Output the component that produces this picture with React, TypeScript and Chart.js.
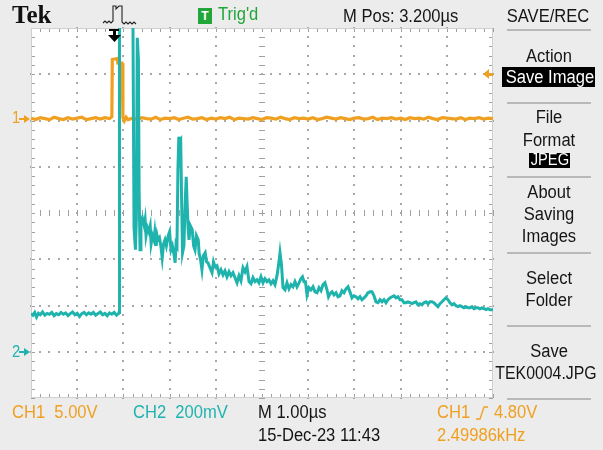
import React, { useEffect, useRef } from "react";
import { Chart, registerables } from "chart.js";

Chart.register(...registerables);

const ORANGE = "#f0a020";
const TEAL = "#1fb3ad";
const INK = "#151515";
const GREEN = "#22a63a";

// Horizontal: M 1.00 µs/div, M Pos 3.200 µs, trigger at t = 0
const timeMin = -1.8;
const timeMax = 8.2;
const ch1VoltsPerDiv = 5;
const ch2MilliVoltsPerDiv = 200;
const ch1OffsetDiv = 2.04;
const ch2OffsetDiv = -3.0;
const triggerLevelVolts = 4.8;
const triggerTime = 0;

// CH1 (V)
const ch1Trace: [number, number][] = [
  [-1.8, 0.05], [-1.7, -0.1], [-1.6, 0.1], [-1.5, 0], [-1.4, -0.1], [-1.3, 0.15], [-1.2, 0], [-1.1, -0.1],
  [-1.0, 0.1], [-0.9, -0.05], [-0.8, 0.05], [-0.7, 0.15], [-0.6, -0.1], [-0.5, 0], [-0.4, 0.1], [-0.3, -0.05],
  [-0.2, 0.1], [-0.1, 0], [-0.05, 0.2], [-0.04, 6.4], [0.06, 6.5], [0.08, 6.0], [0.17, 6.0], [0.19, 0.1],
  [0.22, -0.25], [0.26, 0.15], [0.3, -0.1], [0.4, 0.05], [0.5, -0.1], [0.6, 0.1], [0.7, 0], [0.8, -0.05],
  [0.9, 0.15], [1.0, -0.1], [1.1, 0.05], [1.2, 0], [1.3, 0.1], [1.4, -0.1], [1.5, 0.05], [1.6, 0.15],
  [1.7, -0.05], [1.8, 0], [1.9, 0.1], [2.0, -0.1], [2.1, 0.05], [2.2, -0.05], [2.3, 0.1], [2.4, 0],
  [2.5, 0.15], [2.6, -0.1], [2.7, 0.05], [2.8, 0], [2.9, -0.05], [3.0, 0.1], [3.1, 0], [3.2, -0.1],
  [3.3, 0.1], [3.4, 0.05], [3.5, -0.05], [3.6, 0.15], [3.7, 0], [3.8, -0.1], [3.9, 0.1], [4.0, 0],
  [4.1, 0.05], [4.2, -0.05], [4.3, 0.1], [4.4, -0.1], [4.5, 0], [4.6, 0.15], [4.7, 0.05], [4.8, -0.05],
  [4.9, 0.1], [5.0, 0], [5.1, -0.1], [5.2, 0.05], [5.3, 0.1], [5.4, -0.05], [5.5, 0], [5.6, 0.15],
  [5.7, -0.1], [5.8, 0.05], [5.9, 0], [6.0, 0.1], [6.1, -0.05], [6.2, 0.05], [6.3, -0.1], [6.4, 0.1],
  [6.5, 0], [6.6, 0.05], [6.7, -0.05], [6.8, 0.15], [6.9, 0], [7.0, -0.1], [7.1, 0.1], [7.2, 0.05],
  [7.3, 0], [7.4, -0.05], [7.5, 0.1], [7.6, -0.1], [7.7, 0.05], [7.8, 0], [7.9, 0.1], [8.0, -0.05],
  [8.1, 0.05], [8.2, 0],
];

// CH2 (mV)
const ch2Trace: [number, number][] = [
  [-1.8, 165], [-1.76, 158], [-1.72, 170], [-1.68, 150], [-1.64, 166], [-1.6, 160], [-1.55, 172], [-1.5, 158],
  [-1.45, 166], [-1.4, 162], [-1.35, 170], [-1.3, 156], [-1.25, 165], [-1.2, 160], [-1.15, 170], [-1.1, 162],
  [-1.05, 168], [-1.0, 156], [-0.95, 165], [-0.9, 172], [-0.85, 160], [-0.8, 166], [-0.75, 152], [-0.7, 165],
  [-0.65, 170], [-0.6, 160], [-0.55, 168], [-0.5, 162], [-0.45, 170], [-0.4, 158], [-0.35, 165], [-0.3, 172],
  [-0.25, 160], [-0.2, 166], [-0.15, 156], [-0.1, 168], [-0.05, 162], [0, 170], [0.05, 158], [0.1, 166],
  [0.105, 170], [0.115, 1500], [0.405, 1500], [0.43, 536], [0.46, 441], [0.48, 571], [0.5, 1358], [0.525, 1263],
  [0.54, 700], [0.56, 441], [0.58, 562], [0.61, 579], [0.65, 545], [0.67, 571], [0.69, 502], [0.72, 536],
  [0.75, 519], [0.78, 545], [0.8, 467], [0.83, 502], [0.86, 484], [0.88, 519], [0.91, 458], [0.93, 502],
  [0.95, 484], [0.98, 493], [1.01, 458], [1.04, 406], [1.07, 467], [1.1, 484], [1.13, 458], [1.17, 502],
  [1.2, 519], [1.23, 441], [1.26, 458], [1.3, 415], [1.32, 385], [1.34, 467], [1.36, 458], [1.38, 787],
  [1.4, 930], [1.41, 908], [1.44, 917], [1.46, 657], [1.48, 428], [1.51, 458], [1.54, 657], [1.56, 757],
  [1.58, 640], [1.6, 536], [1.62, 484], [1.65, 545], [1.69, 528], [1.72, 458], [1.75, 441], [1.78, 502],
  [1.82, 484], [1.84, 424], [1.87, 398], [1.9, 355], [1.93, 415], [1.97, 428], [2.0, 389], [2.03, 385],
  [2.074, 363], [2.118, 342], [2.15, 389], [2.183, 368], [2.226, 372], [2.269, 337], [2.312, 355], [2.356, 333],
  [2.399, 350], [2.442, 324], [2.486, 346], [2.529, 329], [2.572, 342], [2.616, 320], [2.659, 298], [2.702, 329],
  [2.745, 307], [2.789, 363], [2.832, 346], [2.875, 368], [2.919, 303], [2.962, 294], [3.005, 320], [3.048, 303],
  [3.092, 311], [3.135, 298], [3.178, 324], [3.222, 298], [3.265, 316], [3.308, 303], [3.351, 311], [3.395, 294],
  [3.438, 307], [3.481, 290], [3.525, 329], [3.568, 389], [3.59, 428], [3.622, 376], [3.655, 277], [3.698, 268],
  [3.741, 298], [3.784, 272], [3.828, 290], [3.871, 281], [3.914, 303], [3.958, 281], [4.001, 298], [4.044, 316],
  [4.077, 324], [4.109, 303], [4.141, 303], [4.174, 246], [4.217, 277], [4.26, 268], [4.304, 281], [4.347, 259],
  [4.39, 255], [4.434, 277], [4.477, 264], [4.52, 290], [4.563, 298], [4.607, 268], [4.639, 238], [4.672, 251],
  [4.715, 259], [4.758, 246], [4.801, 255], [4.845, 238], [4.888, 242], [4.931, 264], [4.975, 255], [5.018, 272],
  [5.061, 281], [5.104, 259], [5.148, 233], [5.191, 242], [5.234, 238], [5.278, 229], [5.321, 238], [5.364, 225],
  [5.408, 233], [5.451, 242], [5.494, 255], [5.537, 259], [5.581, 259], [5.624, 242], [5.667, 216], [5.711, 212],
  [5.754, 225], [5.797, 216], [5.84, 225], [5.884, 212], [5.927, 225], [5.97, 233], [6.014, 238], [6.057, 242],
  [6.1, 233], [6.143, 238], [6.187, 225], [6.23, 225], [6.273, 212], [6.317, 212], [6.36, 216], [6.403, 212],
  [6.446, 208], [6.49, 212], [6.533, 216], [6.576, 203], [6.62, 208], [6.663, 203], [6.706, 212], [6.749, 216],
  [6.793, 208], [6.836, 216], [6.879, 216], [6.922, 212], [6.966, 203], [7.009, 195], [7.052, 208], [7.096, 216],
  [7.139, 225], [7.182, 233], [7.225, 225], [7.269, 212], [7.312, 203], [7.355, 208], [7.399, 199], [7.442, 195],
  [7.485, 199], [7.528, 195], [7.572, 190], [7.615, 195], [7.658, 190], [7.702, 190], [7.745, 195], [7.788, 186],
  [7.831, 190], [7.875, 190], [7.918, 186], [7.961, 190], [8.005, 186], [8.048, 182], [8.091, 186], [8.134, 182],
  [8.2, 182],
];

const scopePlugin = {
  id: "scope",
  beforeDraw(chart: any) {
    const { ctx, width, height, chartArea: a } = chart;
    ctx.save();
    ctx.fillStyle = "#ececec";
    ctx.fillRect(0, 0, width, height);
    ctx.fillStyle = "#ffffff";
    ctx.fillRect(a.left, a.top, a.right - a.left, a.bottom - a.top);
    ctx.restore();
  },
  beforeDatasetsDraw(chart: any) {
    const { ctx, chartArea: a } = chart;
    const xs = chart.scales.x;
    const ys = chart.scales.y;
    const xCenter = (timeMin + timeMax) / 2;
    ctx.save();
    const xMinor: number[] = [];
    for (let i = 0; i <= 50; i++) xMinor.push(Math.round(xs.getPixelForValue(timeMin + i * 0.2)));
    const yMinor: number[] = [];
    for (let i = 0; i <= 40; i++) yMinor.push(Math.round(ys.getPixelForValue(-4 + i * 0.2)));
    ctx.fillStyle = "#a8a8a8";
    for (let i = 1; i < 10; i++) {
      if (i === 5) continue;
      const px = Math.round(xs.getPixelForValue(timeMin + i));
      yMinor.forEach((py) => ctx.fillRect(px - 1, py - 1, 2, 2));
    }
    for (let j = 1; j < 8; j++) {
      if (j === 4) continue;
      const py = Math.round(ys.getPixelForValue(-4 + j));
      xMinor.forEach((px) => ctx.fillRect(px - 1, py - 1, 2, 2));
    }
    ctx.fillStyle = "#a0a0a0";
    const cx = Math.round(xs.getPixelForValue(xCenter));
    const cy = Math.round(ys.getPixelForValue(0));
    yMinor.forEach((py) => ctx.fillRect(cx - 3, py, 6, 1));
    xMinor.forEach((px) => ctx.fillRect(px, cy - 3, 1, 6));
    xMinor.forEach((px) => {
      ctx.fillRect(px, a.top, 1, 4);
      ctx.fillRect(px, a.bottom - 4, 1, 4);
    });
    yMinor.forEach((py) => {
      ctx.fillRect(a.left, py, 4, 1);
      ctx.fillRect(a.right - 4, py, 4, 1);
    });
    ctx.strokeStyle = "#d0d0d0";
    ctx.lineWidth = 1;
    ctx.strokeRect(a.left + 0.5, a.top + 0.5, a.right - a.left - 1, a.bottom - a.top - 1);
    ctx.restore();
  },
  afterDatasetsDraw(chart: any) {
    const { ctx, chartArea: a } = chart;
    const xs = chart.scales.x;
    const ys = chart.scales.y;
    ctx.save();
    // trigger position arrow
    const tx = Math.round(xs.getPixelForValue(triggerTime));
    ctx.fillStyle = "#000";
    ctx.fillRect(tx - 5, a.top + 1, 10, 2);
    ctx.fillRect(tx - 1, a.top + 1, 3, 7);
    ctx.beginPath();
    ctx.moveTo(tx - 6, a.top + 7);
    ctx.lineTo(tx + 7, a.top + 7);
    ctx.lineTo(tx + 0.5, a.top + 14);
    ctx.closePath();
    ctx.fill();
    // trigger level arrow
    const ty = Math.round(ys.getPixelForValue(ch1OffsetDiv + triggerLevelVolts / ch1VoltsPerDiv));
    ctx.fillStyle = ORANGE;
    ctx.beginPath();
    ctx.moveTo(a.right - 10, ty);
    ctx.lineTo(a.right - 4, ty - 5);
    ctx.lineTo(a.right - 4, ty + 5);
    ctx.closePath();
    ctx.fill();
    ctx.fillRect(a.right - 5, ty - 1, 5, 3);
    // channel ground markers
    const mark = (div: number, color: string) => {
      const my = Math.round(ys.getPixelForValue(div));
      ctx.fillStyle = color;
      ctx.fillRect(a.left - 12, my - 1, 6, 2);
      ctx.beginPath();
      ctx.moveTo(a.left - 7, my - 4);
      ctx.lineTo(a.left - 1, my);
      ctx.lineTo(a.left - 7, my + 4);
      ctx.closePath();
      ctx.fill();
      return my;
    };
    mark(ch1OffsetDiv, ORANGE);
    mark(ch2OffsetDiv, TEAL);
    ctx.restore();
  },
};

type TxtProps = {
  x: number;
  y: number;
  children: React.ReactNode;
  color?: string;
  size?: number;
  w?: number;
  center?: boolean;
  sx?: number;
};

function Txt({ x, y, children, color = INK, size = 18, w, center = false, sx = 0.92 }: TxtProps) {
  return (
    <div
      style={{
        position: "absolute",
        left: x,
        top: y,
        width: w,
        textAlign: center ? "center" : "left",
        font: `${size}px "Liberation Sans", Arial, sans-serif`,
        lineHeight: `${size}px`,
        color,
        whiteSpace: "pre",
        transform: `scaleX(${sx})`,
        transformOrigin: center ? "50% 0" : "0 0",
      }}
    >
      {children}
    </div>
  );
}

function Sep({ y }: { y: number }) {
  return <div style={{ position: "absolute", left: 507, top: y, width: 84, height: 2, background: "#b9b9b9" }} />;
}

function MenuTxt({ y, children }: { y: number; children: React.ReactNode }) {
  return (
    <Txt x={479} y={y} w={140} center>
      {children}
    </Txt>
  );
}

export default function App() {
  const canvasRef = useRef<HTMLCanvasElement | null>(null);

  useEffect(() => {
    const canvas = canvasRef.current;
    if (!canvas) return;
    const chart = new Chart(canvas, {
      type: "line",
      data: {
        datasets: [
          {
            label: "CH2",
            data: ch2Trace.map(([t, mv]) => ({ x: t, y: ch2OffsetDiv + mv / ch2MilliVoltsPerDiv })),
            borderColor: TEAL,
            borderWidth: 3,
            pointRadius: 0,
            tension: 0,
          },
          {
            label: "CH1",
            data: ch1Trace.map(([t, v]) => ({ x: t, y: ch1OffsetDiv + v / ch1VoltsPerDiv })),
            borderColor: ORANGE,
            borderWidth: 3.2,
            pointRadius: 0,
            tension: 0,
          },
        ],
      },
      options: {
        responsive: false,
        animation: false,
        devicePixelRatio: 1,
        events: [],
        layout: { padding: { left: 31, top: 28, right: 110, bottom: 52 } },
        scales: {
          x: { type: "linear", min: timeMin, max: timeMax, display: false },
          y: { type: "linear", min: -4, max: 4, display: false },
        },
        plugins: { legend: { display: false }, tooltip: { enabled: false } },
      },
      plugins: [scopePlugin],
    });
    return () => chart.destroy();
  }, []);

  return (
    <div style={{ position: "absolute", left: 0, top: 0, width: 603, height: 450, overflow: "hidden", background: "#ececec" }}>
      <canvas ref={canvasRef} width={603} height={450} style={{ position: "absolute", left: 0, top: 0, width: 603, height: 450 }} />

      {/* top bar */}
      <div
        style={{
          position: "absolute",
          left: 12,
          top: 2,
          font: 'bold 25px "Liberation Serif", "DejaVu Serif", serif',
          lineHeight: "25px",
          color: "#111",
        }}
      >
        Tek
      </div>
      <svg style={{ position: "absolute", left: 100, top: 2 }} width={40} height={24}>
        <polyline
          points="3,21 5,19 7,21 9,19 11,21 13,19 13,4 16,4 16,7 19,4 22,4 22,20 24,22 26,20 28,22 30,20 32,22 34,20 36,22"
          fill="none"
          stroke="#222"
          strokeWidth={1.1}
        />
      </svg>
      <div style={{ position: "absolute", left: 198, top: 8, width: 14, height: 16, background: GREEN }}>
        <div style={{ font: 'bold 12px "Liberation Sans", Arial, sans-serif', color: "#fff", textAlign: "center", lineHeight: "16px" }}>T</div>
      </div>
      <Txt x={218} y={5} color={GREEN}>Trig'd</Txt>
      <Txt x={343} y={7}>M Pos: 3.200µs</Txt>
      <Txt x={478} y={7} w={140} center>SAVE/REC</Txt>
      <Sep y={29} />

      {/* menu */}
      <MenuTxt y={47}>Action</MenuTxt>
      <div style={{ position: "absolute", left: 502, top: 67, width: 93, height: 20, background: "#000" }}>
        <Txt x={0} y={1} w={93} center color="#fff">Save Image</Txt>
      </div>
      <Sep y={102} />
      <MenuTxt y={108}>File</MenuTxt>
      <MenuTxt y={131}>Format</MenuTxt>
      <div style={{ position: "absolute", left: 529, top: 153, width: 41, height: 15, background: "#000" }}>
        <Txt x={0} y={-1} w={41} size={16} center color="#fff">JPEG</Txt>
      </div>
      <Sep y={176} />
      <MenuTxt y={183}>About</MenuTxt>
      <MenuTxt y={205}>Saving</MenuTxt>
      <MenuTxt y={227}>Images</MenuTxt>
      <Sep y={252} />
      <MenuTxt y={269}>Select</MenuTxt>
      <MenuTxt y={291}>Folder</MenuTxt>
      <Sep y={325} />
      <MenuTxt y={342}>Save</MenuTxt>
      <Txt x={476} y={364} w={140} center sx={0.88}>TEK0004.JPG</Txt>
      <Sep y={398} />

      {/* channel markers */}
      <Txt x={12} y={110} color={ORANGE} size={16}>1</Txt>
      <Txt x={12} y={344} color={TEAL} size={16}>2</Txt>

      {/* bottom readouts */}
      <Txt x={12} y={403} color={ORANGE}>{"CH1  5.00V"}</Txt>
      <Txt x={133} y={403} color={TEAL}>{"CH2  200mV"}</Txt>
      <Txt x={258} y={403}>M 1.00µs</Txt>
      <Txt x={437} y={403} color={ORANGE}>CH1</Txt>
      <svg style={{ position: "absolute", left: 475, top: 405 }} width={14} height={16}>
        <polyline points="1,14 5,14 9,2 13,2" fill="none" stroke={ORANGE} strokeWidth={1.3} />
      </svg>
      <Txt x={494} y={403} color={ORANGE}>4.80V</Txt>
      <Txt x={258} y={426}>15-Dec-23 11:43</Txt>
      <Txt x={437} y={426} color={ORANGE}>2.49986kHz</Txt>
    </div>
  );
}
